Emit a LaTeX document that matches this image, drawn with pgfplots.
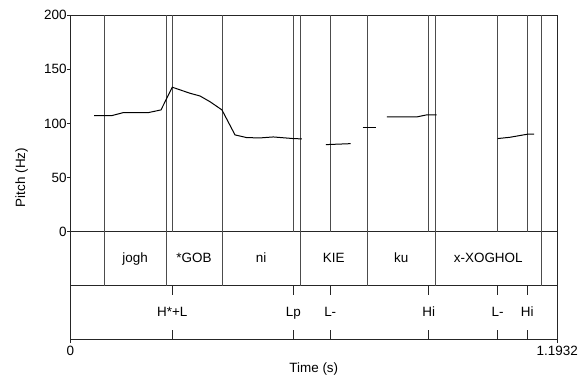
\documentclass[border=0pt]{standalone}
\usepackage{pgfplots}
\pgfplotsset{compat=1.18}
\usetikzlibrary{calc}
\usepackage{fontspec}
\setmainfont{Liberation Sans}
\begin{document}
\fontsize{13.5}{16}\selectfont
\begin{tikzpicture}
\path[use as bounding box] (-70.3bp,-36.3bp) rectangle (516.7bp,339.7bp);
\begin{axis}[
  scale only axis, width=487bp, height=324.4bp,
  xmin=0, xmax=1.1932, ymin=-100, ymax=200,
  clip=false,
  axis line style={black!85, line width=1bp},
  xtick={0,1.1932}, xticklabels={0,1.1932},
  ytick={0,50,100,150,200}, yticklabels={0,50,100,150,200},
  tick align=outside, xtick pos=bottom, ytick pos=left,
  major tick length=3.5bp,
  tick style={black!85, line width=0.8bp},
  yticklabel style={inner sep=0pt, anchor=east},
  xticklabel style={inner sep=0pt, anchor=north, yshift=-3bp},
]
% horizontal tier lines
\addplot[black!85, line width=1bp] coordinates {(0,0) (1.1932,0)};
\addplot[black!85, line width=1bp] coordinates {(0,-50) (1.1932,-50)};
% word boundaries
\addplot[black!70, line width=0.8bp, unbounded coords=jump] coordinates {
 (0.0833,-50) (0.0833,200) (0.0833,nan)
 (0.2344,-50) (0.2344,200) (0.2344,nan)
 (0.3716,-50) (0.3716,200) (0.3716,nan)
 (0.5635,-50) (0.5635,200) (0.5635,nan)
 (0.7276,-50) (0.7276,200) (0.7276,nan)
 (0.8942,-50) (0.8942,200) (0.8942,nan)
 (1.1538,-50) (1.1538,200)
};
% tone lines in pitch panel
\addplot[black!70, line width=0.8bp, unbounded coords=jump] coordinates {
 (0.2499,0) (0.2499,200) (0.2499,nan)
 (0.5463,0) (0.5463,200) (0.5463,nan)
 (0.6369,0) (0.6369,200) (0.6369,nan)
 (0.8780,0) (0.8780,200) (0.8780,nan)
 (1.0470,0) (1.0470,200) (1.0470,nan)
 (1.1196,0) (1.1196,200)
};
% tone ticks in point tier
\addplot[black!85, line width=0.8bp, unbounded coords=jump] coordinates {
 (0.2499,-50) (0.2499,-59) (0.2499,nan) (0.2499,-100) (0.2499,-91) (0.2499,nan)
 (0.5463,-50) (0.5463,-59) (0.5463,nan) (0.5463,-100) (0.5463,-91) (0.5463,nan)
 (0.6369,-50) (0.6369,-59) (0.6369,nan) (0.6369,-100) (0.6369,-91) (0.6369,nan)
 (0.8780,-50) (0.8780,-59) (0.8780,nan) (0.8780,-100) (0.8780,-91) (0.8780,nan)
 (1.0470,-50) (1.0470,-59) (1.0470,nan) (1.0470,-100) (1.0470,-91) (1.0470,nan)
 (1.1196,-50) (1.1196,-59) (1.1196,nan) (1.1196,-100) (1.1196,-91)
};
% pitch contour
\addplot[black, line width=1bp] coordinates {
 (0.0581,107.2) (0.1014,107.2) (0.1298,110) (0.1911,110) (0.2222,112.5)
 (0.2499,133.5) (0.2932,127.9) (0.3177,125.4) (0.3422,120.1) (0.3716,112.5)
 (0.4035,89.4) (0.4321,86.9) (0.4647,86.6) (0.4973,87.5) (0.5463,86) (0.5676,85.7)};
\addplot[black, line width=1bp] coordinates {(0.6264,80.4) (0.6869,81.3)};
\addplot[black, line width=1bp] coordinates {(0.7163,96.5) (0.7482,96.5)};
\addplot[black, line width=1bp] coordinates {(0.7758,106) (0.8486,106) (0.8731,107.9) (0.8976,107.9)};
\addplot[black, line width=1bp] coordinates {(1.0470,86) (1.0772,87.2) (1.1196,90) (1.1367,90)};
% tier labels
\node[anchor=mid] at (axis cs:0.1589,-25) {jogh};
\node[anchor=mid] at (axis cs:0.3030,-25) {*GOB};
\node[anchor=mid] at (axis cs:0.4676,-25) {ni};
\node[anchor=mid] at (axis cs:0.6456,-25) {KIE};
\node[anchor=mid] at (axis cs:0.8109,-25) {ku};
\node[anchor=mid] at (axis cs:1.0240,-25) {x-XOGHOL};
\node[anchor=mid] at (axis cs:0.2499,-75) {H*+L};
\node[anchor=mid] at (axis cs:0.5463,-75) {Lp};
\node[anchor=mid] at (axis cs:0.6369,-75) {L-};
\node[anchor=mid] at (axis cs:0.8780,-75) {Hi};
\node[anchor=mid] at (axis cs:1.0470,-75) {L-};
\node[anchor=mid] at (axis cs:1.1196,-75) {Hi};
\node[rotate=90, anchor=center] at ($(rel axis cs:0,0.5)+(-48.6bp,0bp)$) {Pitch (Hz)};
\node[anchor=center] at ($(rel axis cs:0.5,0)+(0bp,-29.5bp)$) {Time (s)};
\end{axis}
\end{tikzpicture}
\end{document}
